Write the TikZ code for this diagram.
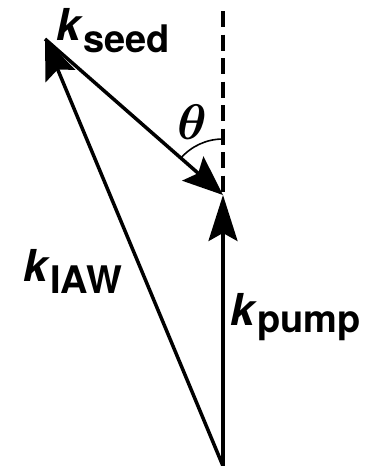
\RequirePackage{fix-cm}
\documentclass[tikz,border=0pt]{standalone}
\usepackage{fontspec}
\setmainfont{TeX Gyre Heros}
\usetikzlibrary{arrows.meta}

\newcommand\kvec[2][12pt]{\textit{k}\raisebox{-#1}{\fontsize{38}{38}\selectfont #2}}

\begin{document}
\begin{tikzpicture}[
  x=1pt, y=-1pt,
  >={Stealth[length=40pt, width=32pt, inset=7pt]},
  vec/.style={->, line width=3.5pt},
  lbl/.style={inner sep=0pt, font=\fontsize{44}{44}\selectfont\bfseries}
]
\useasboundingbox (0,0) rectangle (366,466);
\coordinate (O) at (223,466);
\coordinate (A) at (45,39);
\coordinate (P) at (223,195);
\coordinate (T) at (223,11);
% reference direction and angle
\draw[line width=3.8pt, dash pattern=on 16pt off 7.5pt] (T) -- (P);
\draw[line width=1.6pt] (P) ++(-90:56) arc[start angle=-90, end angle=-139, radius=56];
\node[inner sep=0pt] (theta) at (192,122) {\scalebox{5}{\boldmath$\theta$}};
% wave vectors
\draw[vec] (O) -- (A);
\draw[vec] (A) -- (P);
\draw[vec, -{Stealth[length=46pt, width=29pt, inset=8pt]}] (O) -- (P);
\node[lbl, anchor=base west] (kseed) at (56,40) {\kvec{seed}};
\node[lbl, anchor=base west] (kiaw) at (23,281) {\kvec{IAW}};
\node[lbl, anchor=base west] (kpump) at (230,325) {\kvec[7pt]{pump}};
\end{tikzpicture}
\end{document}
